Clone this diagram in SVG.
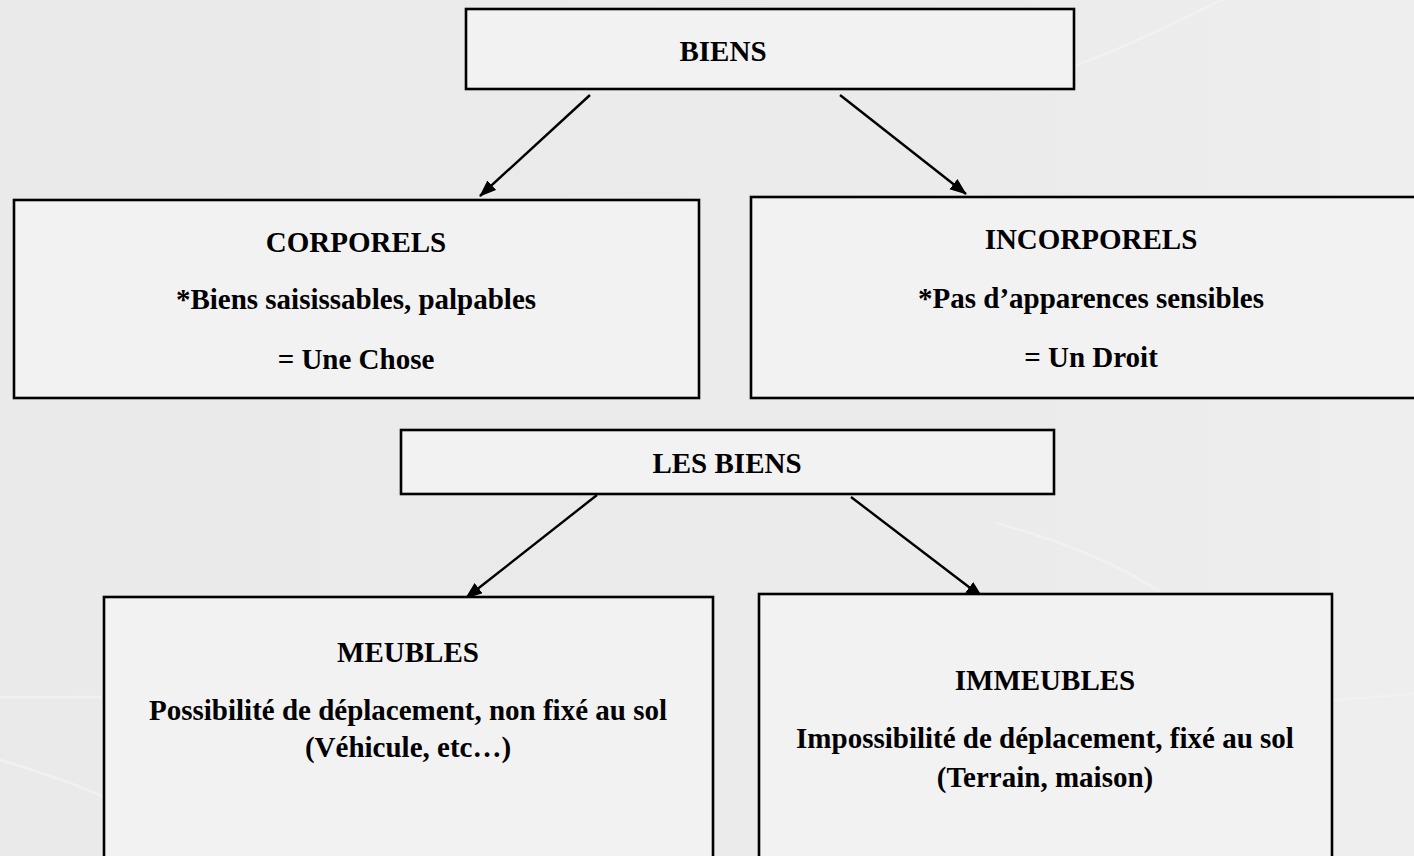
<svg xmlns="http://www.w3.org/2000/svg" width="1414" height="856" viewBox="0 0 1414 856">
  <defs>
    <marker id="arrow" markerUnits="userSpaceOnUse" markerWidth="18" markerHeight="14" refX="16" refY="6.5" orient="auto">
      <path d="M0,0 L17,6.5 L0,13 z" fill="#000"/>
    </marker>
    <linearGradient id="bg" x1="0" y1="0" x2="1" y2="0">
      <stop offset="0" stop-color="#eaeaea"/>
      <stop offset="0.7" stop-color="#ebebeb"/>
      <stop offset="1" stop-color="#eeeeee"/>
    </linearGradient>
  </defs>
  <style>
    .box { fill: #f2f2f2; stroke: #000; stroke-width: 2.6; }
    .conn { stroke: #000; stroke-width: 2.4; fill: none; marker-end: url(#arrow); }
    .t { font-family: "Liberation Serif", "Times New Roman", serif; font-weight: bold; font-size: 29px; fill: #000; text-anchor: middle; }
    .deco { fill: none; stroke: #f1f1f1; stroke-width: 2.5; stroke-linecap: round; }
  </style>

  <rect x="0" y="0" width="1414" height="856" fill="url(#bg)"/>
  <g id="background-curves">
    <path class="deco" d="M1000,88 C1080,70 1150,35 1222,0"/>
    <path class="deco" d="M996,523 C1060,540 1120,565 1160,592"/>
    <path class="deco" d="M0,760 C40,772 80,786 104,797"/>
    <path class="deco" d="M0,697 L100,697" stroke-width="1.2"/>
    <path class="deco" d="M1332,700 C1360,698 1390,696 1414,694" stroke-width="1.2"/>
  </g>

  <g id="connectors">
    <line class="conn" x1="590" y1="95" x2="480" y2="196"/>
    <line class="conn" x1="840" y1="95" x2="966" y2="194"/>
    <line class="conn" x1="597" y1="495" x2="466" y2="598"/>
    <line class="conn" x1="851" y1="497" x2="982" y2="597"/>
  </g>

  <g id="node-biens">
    <rect class="box" x="466" y="9" width="608" height="80"/>
    <text class="t" x="723" y="61">BIENS</text>
  </g>

  <g id="node-corporels">
    <rect class="box" x="14" y="200" width="685" height="198"/>
    <text class="t" x="356" y="252">CORPORELS</text>
    <text class="t" x="356" y="309">*Biens saisissables, palpables</text>
    <text class="t" x="356" y="369">= Une Chose</text>
  </g>

  <g id="node-incorporels">
    <rect class="box" x="751" y="197" width="690" height="201"/>
    <text class="t" x="1091" y="249">INCORPORELS</text>
    <text class="t" x="1091" y="308">*Pas d’apparences sensibles</text>
    <text class="t" x="1091" y="367">= Un Droit</text>
  </g>

  <g id="node-les-biens">
    <rect class="box" x="401" y="430" width="653" height="64"/>
    <text class="t" x="727" y="473">LES BIENS</text>
  </g>

  <g id="node-meubles">
    <rect class="box" x="104" y="597" width="609" height="280"/>
    <text class="t" x="408" y="662">MEUBLES</text>
    <text class="t" x="408" y="720">Possibilité de déplacement, non fixé au sol</text>
    <text class="t" x="408" y="757">(Véhicule, etc…)</text>
  </g>

  <g id="node-immeubles">
    <rect class="box" x="759" y="594" width="573" height="283"/>
    <text class="t" x="1045" y="690">IMMEUBLES</text>
    <text class="t" x="1045" y="748">Impossibilité de déplacement, fixé au sol</text>
    <text class="t" x="1045" y="787">(Terrain, maison)</text>
  </g>
</svg>
